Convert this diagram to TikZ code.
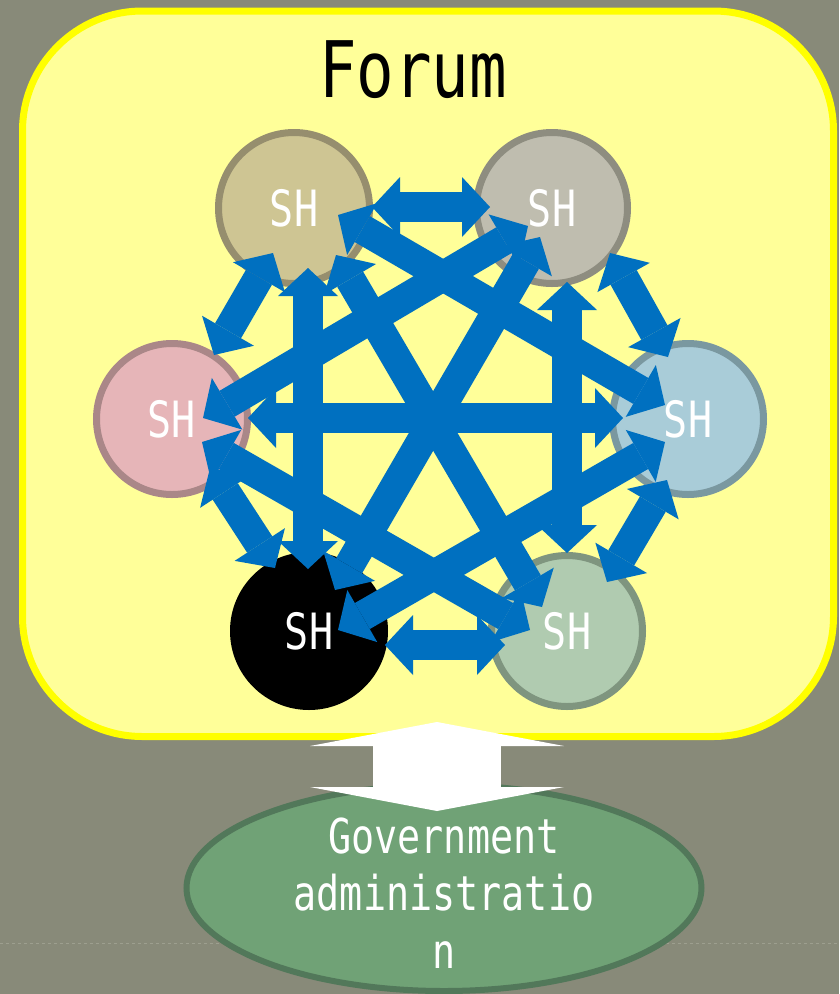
\documentclass[tikz,border=0pt]{standalone}
\usepackage{fontspec}
\newfontfamily\gothic[FakeStretch=0.8]{DejaVu Sans Mono}
\usetikzlibrary{arrows.meta,shapes.geometric}
\definecolor{bgcol}{HTML}{888A79}
\definecolor{boxfill}{HTML}{FFFF99}
\definecolor{boxline}{HTML}{FFFF00}
\definecolor{linkblue}{HTML}{0070C0}
\definecolor{tlfill}{HTML}{CEC593}\definecolor{tlline}{HTML}{968E6E}
\definecolor{trfill}{HTML}{BFBDAF}\definecolor{trline}{HTML}{8E8D80}
\definecolor{lfill}{HTML}{E6B5B8}\definecolor{lline}{HTML}{AA8788}
\definecolor{rfill}{HTML}{A9CCD8}\definecolor{rline}{HTML}{7A98A0}
\definecolor{brfill}{HTML}{B0CBB0}\definecolor{brline}{HTML}{7F957F}
\definecolor{govfill}{HTML}{70A276}\definecolor{govline}{HTML}{52785A}
\definecolor{dashcol}{HTML}{9D9F8F}
\begin{document}
\begin{tikzpicture}[x=1pt,y=-1pt,
  shnode/.style={circle, minimum size=151pt, inner sep=0pt, line width=7pt, text=white,
    font=\gothic\fontsize{50}{50}\selectfont},
  tipb/.tip={Triangle[length=28pt,width=60pt,line width=0pt]},
  link/.style={draw=linkblue, line width=30pt, tipb-tipb},
  tipw/.tip={Triangle[length=24pt,width=254pt,line width=0pt]},
  bigwhite/.style={draw=white, line width=128pt, tipw-tipw},
  forumbox/.style={fill=boxfill, draw=boxline, line width=7pt, rounded corners=120pt}
]
\useasboundingbox (0,0) rectangle (839,994);
\fill[bgcol] (0,0) rectangle (839,994);
\draw[dashcol, dashed, line width=0.8pt] (0,943) -- (839,943);

% forum box
\draw[forumbox] (22.5,11) rectangle (833.5,736.5);
\node[font=\gothic\fontsize{78}{78}\selectfont, anchor=base, inner sep=0pt] (title) at (413,97) {Forum};

% stakeholders
\node[shnode, fill=tlfill, draw=tlline] (TL) at (294,208) {SH};
\node[shnode, fill=trfill, draw=trline] (TR) at (552,208) {SH};
\node[shnode, fill=lfill, draw=lline] (L) at (172,419) {SH};
\node[shnode, fill=rfill, draw=rline] (R) at (688,419) {SH};
\node[shnode, fill=black, draw=black] (BL) at (309,631) {SH};
\node[shnode, fill=brfill, draw=brline] (BR) at (567,631) {SH};

% arrow end points
\coordinate (TLtr) at (372,207); \coordinate (TRtl) at (490,207);
\coordinate (TRr) at (610,253);  \coordinate (Rtr) at (668,357);
\coordinate (Rbr) at (667,480);  \coordinate (BRr) at (607,582);
\coordinate (BLbr) at (385,645); \coordinate (BRbl) at (505,645);
\coordinate (Lbl) at (210,468);  \coordinate (BLl) at (275,568);
\coordinate (TLl) at (273,253);  \coordinate (Ltl) at (214,355);
\coordinate (Lr) at (248,418);   \coordinate (Rl) at (623,418);
\coordinate (TLbl) at (308,268); \coordinate (BLtl) at (308,569);
\coordinate (TRbr) at (567,282); \coordinate (BRtr) at (567,553);
\coordinate (TLr) at (338,215);  \coordinate (Rtl) at (665,405);
\coordinate (TRl) at (528,226);  \coordinate (Ltr) at (203,418);
\coordinate (Rbl) at (665,442);  \coordinate (BLr) at (338,630);
\coordinate (Lbr) at (202,442);  \coordinate (BRl) at (530,630);
\coordinate (TLbr) at (336,255); \coordinate (BRtl) at (542,607);
\coordinate (TRbl) at (540,237); \coordinate (BLtr) at (335,590);

% links
\draw[link] (TLtr) -- (TRtl);
\draw[link] (TRr) -- (Rtr);
\draw[link] (Rbr) -- (BRr);
\draw[link] (BLbr) -- (BRbl);
\draw[link] (Lbl) -- (BLl);
\draw[link] (TLl) -- (Ltl);
\draw[link] (Lr) -- (Rl);
\draw[link] (TLbl) -- (BLtl);
\draw[link] (TRbr) -- (BRtr);
\draw[link] (TLr) -- (Rtl);
\draw[link] (TRl) -- (Ltr);
\draw[link] (Rbl) -- (BLr);
\draw[link] (Lbr) -- (BRl);
\draw[link] (TLbr) -- (BRtl);
\draw[link] (TRbl) -- (BLtr);

% government
\node[ellipse, fill=govfill, draw=govline, line width=6pt, minimum width=515pt, minimum height=206pt,
  inner sep=0pt] (gov) at (444,888) {};
\node[text=white, align=center, inner sep=0pt, font=\gothic\fontsize{48}{57.5}\selectfont]
  (govtext) at (444,893) {Government\\administratio\\n};

\coordinate (wtop) at (437,722);
\coordinate (wbot) at (437,811);
\draw[bigwhite] (wtop) -- (wbot);
\end{tikzpicture}
\end{document}
